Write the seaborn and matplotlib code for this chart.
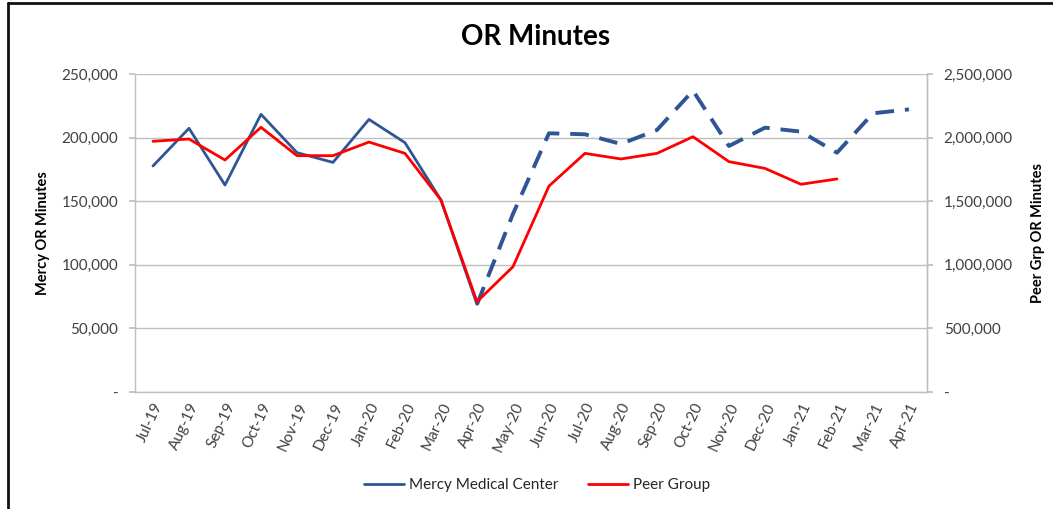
import numpy as np
import pandas as pd
import matplotlib
matplotlib.use("Agg")
import matplotlib.pyplot as plt
from matplotlib.lines import Line2D
from matplotlib.ticker import FuncFormatter
import seaborn as sns

months = ["Jul-19", "Aug-19", "Sep-19", "Oct-19", "Nov-19", "Dec-19", "Jan-20",
          "Feb-20", "Mar-20", "Apr-20", "May-20", "Jun-20", "Jul-20", "Aug-20",
          "Sep-20", "Oct-20", "Nov-20", "Dec-20", "Jan-21", "Feb-21", "Mar-21", "Apr-21"]
mercy = [177700, 207300, 162700, 218300, 188200, 180500, 214300, 196000, 150900, 68900,
         140000, 203400, 202600, 195000, 206000, 236900, 193400, 207800, 204700, 188100,
         219100, 222200]
peer = [1971000, 1989000, 1824000, 2081000, 1858000, 1858000, 1965000, 1876000, 1509000,
        710000, 985000, 1619000, 1876000, 1832000, 1876000, 2007000, 1811000, 1758000,
        1633000, 1675000, np.nan, np.nan]
split_index = 9  # Mercy line is solid up to Apr-20, dashed afterwards

sns.set_theme(style="white")
plt.rcParams["font.family"] = ["Lato", "DejaVu Sans"]

blue = "#2F5597"
red = "#FF0000"
grid_c = "#BFBFBF"

idx = np.arange(len(months))
df = pd.DataFrame({"i": idx, "month": months, "mercy": mercy, "peer": peer})
solid = df[df.i <= split_index]
dashed = df[df.i >= split_index]

fig = plt.figure(figsize=(10.53, 5.09), dpi=100)
ax = fig.add_axes([0.1282, 0.2299, 0.8803 - 0.1282, 0.8546 - 0.2299])

sns.lineplot(data=solid, x="i", y="mercy", ax=ax, color=blue, lw=2.0, zorder=3)
sns.lineplot(data=dashed, x="i", y="mercy", ax=ax, color=blue, lw=2.8, zorder=3,
             dashes=False)
ax.lines[-1].set_dashes([4.8, 2.8])

ax.set_xlim(-0.5, len(months) - 0.5)
ax.set_ylim(0, 250000)
ax.set_yticks(np.arange(0, 250001, 50000))
fmt = FuncFormatter(lambda v, p: "-" if v == 0 else f"{int(v):,}")
ax.yaxis.set_major_formatter(fmt)
ax.yaxis.grid(True, color=grid_c, lw=1.0)
ax.set_axisbelow(True)
ax.set_xticks(idx)
ax.set_xticklabels(months, rotation=65, ha="right", va="top", rotation_mode="anchor",
                   fontsize=11, color="#404040")
ax.tick_params(axis="x", length=0, pad=6)
ax.tick_params(axis="y", labelsize=11, labelcolor="#404040", length=4, color=grid_c,
               left=True, pad=8)
ax.set_xlabel("")
ax.set_ylabel("Mercy OR Minutes", fontsize=10.5, fontweight="bold", color="black", labelpad=8)
for s in ["top"]:
    ax.spines[s].set_visible(False)
for s in ["left", "bottom", "right"]:
    ax.spines[s].set_color(grid_c)
    ax.spines[s].set_linewidth(1.0)

ax2 = ax.twinx()
sns.lineplot(data=df, x="i", y="peer", ax=ax2, color=red, lw=2.0, zorder=4)
ax2.set_ylim(0, 2500000)
ax2.set_yticks(np.arange(0, 2500001, 500000))
ax2.yaxis.set_major_formatter(fmt)
ax2.tick_params(axis="y", labelsize=11, labelcolor="#404040", length=4, color=grid_c,
                right=True, pad=8)
ax2.set_ylabel("Peer Grp OR Minutes", fontsize=10.5, fontweight="bold", color="black",
               labelpad=13)
ax2.set_xlabel("")
for s in ["top", "left", "bottom"]:
    ax2.spines[s].set_visible(False)
ax2.spines["right"].set_color(grid_c)
ax2.spines["right"].set_linewidth(1.0)
ax2.grid(False)

fig.text(0.509, 0.927, "OR Minutes", ha="center", va="center", fontsize=20,
         fontweight="bold", color="black")

handles = [Line2D([], [], color=blue, lw=2.0), Line2D([], [], color=red, lw=2.0)]
fig.legend(handles, ["Mercy Medical Center", "Peer Group"], loc="center",
           bbox_to_anchor=(0.51, 0.047), ncol=2, frameon=False, fontsize=11,
           handlelength=2.6, columnspacing=2.0, handletextpad=0.3)

# outer frame lines (left and top edges)
fig.add_artist(Line2D([0.0075, 0.0075], [0, 0.995], transform=fig.transFigure,
                      color="#111111", lw=2.0))
fig.add_artist(Line2D([0.0075, 1.0], [0.994, 0.994], transform=fig.transFigure,
                      color="#111111", lw=2.0))

fig.savefig("out.png", dpi=100)
